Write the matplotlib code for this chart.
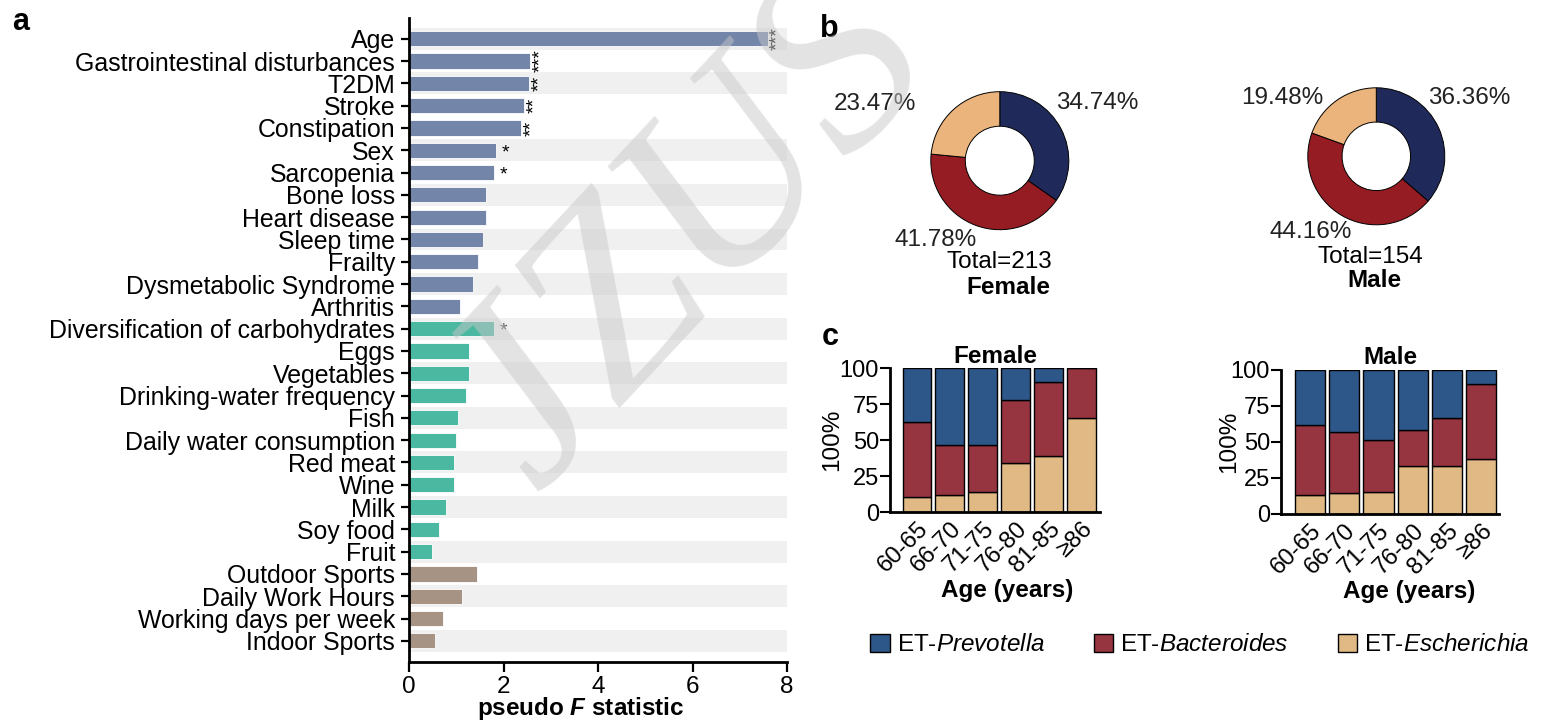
import matplotlib
matplotlib.use("Agg")
import matplotlib.pyplot as plt
import numpy as np

plt.rcParams['font.family'] = ['Liberation Sans', 'DejaVu Sans']
plt.rcParams['mathtext.fontset'] = 'custom'
plt.rcParams['mathtext.rm'] = 'Liberation Sans'
plt.rcParams['mathtext.it'] = 'Liberation Sans:italic'
plt.rcParams['mathtext.bf'] = 'Liberation Sans:bold'
plt.rcParams['mathtext.bfit'] = 'Liberation Sans:bold:italic'

# ---------------- data ----------------
factors = ["Age", "Gastrointestinal disturbances", "T2DM", "Stroke", "Constipation",
           "Sex", "Sarcopenia", "Bone loss", "Heart disease", "Sleep time", "Frailty",
           "Dysmetabolic Syndrome", "Arthritis",
           "Diversification of carbohydrates", "Eggs", "Vegetables",
           "Drinking-water frequency", "Fish", "Daily water consumption", "Red meat",
           "Wine", "Milk", "Soy food", "Fruit",
           "Outdoor Sports", "Daily Work Hours", "Working days per week", "Indoor Sports"]
pseudo_f = [7.59, 2.57, 2.55, 2.44, 2.37, 1.85, 1.80, 1.64, 1.63, 1.57, 1.45, 1.35, 1.07,
            1.80, 1.28, 1.26, 1.20, 1.03, 1.00, 0.95, 0.95, 0.79, 0.63, 0.48,
            1.43, 1.13, 0.72, 0.55]
factor_group = ["host"] * 13 + ["diet"] * 11 + ["lifestyle"] * 4
significance = ["***", "***", "**", "**", "**", "*", "*", "", "", "", "", "", "",
                "*", "", "", "", "", "", "", "", "", "", "",
                "", "", "", ""]
stripe_rows = [0, 2, 5, 7, 9, 11, 13, 15, 17, 19, 21, 23, 25, 27]

enterotypes = ["ET-Prevotella", "ET-Bacteroides", "ET-Escherichia"]
female_pie = [34.74, 41.78, 23.47]
male_pie = [36.36, 44.16, 19.48]
female_total = 213
male_total = 154

age_groups = ["60-65", "66-70", "71-75", "76-80", "81-85", "\u226586"]
female_escherichia = [10.9, 12.0, 14.4, 34.0, 39.1, 65.5]
female_bacteroides = [52.1, 34.5, 32.1, 44.0, 51.4, 34.5]
female_prevotella = [37.0, 53.5, 53.5, 22.0, 9.5, 0.0]
male_escherichia = [13.2, 14.6, 15.5, 33.3, 33.3, 38.4]
male_bacteroides = [48.4, 42.6, 36.1, 25.0, 33.6, 52.1]
male_prevotella = [38.4, 42.8, 48.4, 41.7, 33.1, 9.5]

# ---------------- styles ----------------
group_colors = {"host": "#7385a9", "diet": "#4bb8a1", "lifestyle": "#a69383"}
pie_colors = ["#1f2a5b", "#951c23", "#ebb47c"]
bar_colors = ["#2d5689", "#963440", "#e0b985"]
FS = 17.5

W, H = 1549, 720
fig = plt.figure(figsize=(W / 100, H / 100), dpi=100)


def rect(x0, y0, x1, y1):
    return [x0 / W, 1 - y1 / H, (x1 - x0) / W, (y1 - y0) / H]


# ---------------- panel a ----------------
axA = fig.add_axes(rect(409, 18, 787, 662))
ypos = np.arange(len(factors))
for r in stripe_rows:
    axA.axhspan(r - 0.49, r + 0.49, color="#f0f0f0", lw=0, zorder=0)
axA.barh(ypos, pseudo_f, height=0.68,
         color=[group_colors[g] for g in factor_group],
         edgecolor="white", linewidth=0.6, zorder=2)
for i, (v, s) in enumerate(zip(pseudo_f, significance)):
    if not s:
        continue
    col = "#555555" if factor_group[i] == "diet" else "black"
    if len(s) > 1:
        axA.text(v + 0.22, i, s, rotation=90, ha="center", va="center",
                 fontsize=14, color=col, zorder=3)
    else:
        axA.text(v + 0.2, i + 0.12, s, ha="center", va="center",
                 fontsize=14, color=col, zorder=3)
axA.set_xlim(0, 8)
axA.set_ylim(27.95, -0.93)
axA.set_yticks(ypos)
axA.set_yticklabels(factors, fontsize=17.9)
axA.set_xticks([0, 2, 4, 6, 8])
axA.tick_params(axis="x", labelsize=FS, length=7, width=1.6, pad=3)
axA.tick_params(axis="y", length=6, width=1.6, pad=4)
for sp in ["top", "right"]:
    axA.spines[sp].set_visible(False)
for sp in ["left", "bottom"]:
    axA.spines[sp].set_linewidth(2.0)
axA.set_xlabel(r"pseudo $\mathbfit{F}$ statistic", fontsize=FS, fontweight="bold")
axA.xaxis.set_label_coords(0.455, -0.052)

fig.text(21 / W, 1 - 22 / H, "a", fontsize=22, fontweight="bold", ha="center", va="center")
fig.text(829 / W, 1 - 29 / H, "b", fontsize=22, fontweight="bold", ha="center", va="center")
fig.text(830 / W, 1 - 337 / H, "c", fontsize=22, fontweight="bold", ha="center", va="center")

# ---------------- panel b ----------------
def donut(cx, cy, r, values, total, name, lab_pos, tot_pos, name_pos):
    ax = fig.add_axes(rect(cx - r, cy - r, cx + r, cy + r))
    ax.pie(values, colors=pie_colors, startangle=90, counterclock=False, radius=1,
           wedgeprops=dict(width=0.5, edgecolor="black", linewidth=0.7))
    ax.set_xlim(-1, 1)
    ax.set_ylim(-1, 1)
    ax.set_aspect("equal")
    ax.axis("off")
    for v, (px, py, ha) in zip(values, lab_pos):
        ax.text(px, py, f"{v:.2f}%", fontsize=FS, ha=ha, va="center", color="#222222")
    ax.text(tot_pos[0], tot_pos[1], f"Total={total}", fontsize=FS, ha="center", va="center")
    ax.text(name_pos[0], name_pos[1], name, fontsize=FS, fontweight="bold",
            ha="center", va="center")


donut(999.8, 160.7, 69, female_pie, female_total, "Female",
      [(0.81, 0.84, "left"), (-0.93, -1.15, "center"), (-1.81, 0.82, "center")],
      (0.0, -1.47), (0.13, -1.84))
donut(1376.3, 156.3, 68.5, male_pie, male_total, "Male",
      [(0.755, 0.85, "left"), (-0.96, -1.105, "center"), (-1.37, 0.85, "center")],
      (-0.08, -1.47), (-0.02, -1.82))

# ---------------- panel c ----------------
def stacked(box, esch, bact, prev, title, xlim, ylab_x, xlab_x):
    ax = fig.add_axes(rect(*box))
    x = np.arange(len(age_groups))
    kw = dict(width=0.88, edgecolor="black", linewidth=1.0, zorder=2)
    b_e = ax.bar(x, esch, color=bar_colors[2], **kw)
    b_b = ax.bar(x, bact, bottom=esch, color=bar_colors[1], **kw)
    b_p = ax.bar(x, prev, bottom=np.add(esch, bact), color=bar_colors[0], **kw)
    ax.set_xlim(*xlim)
    ax.set_ylim(0, 100)
    ax.set_yticks([0, 25, 50, 75, 100])
    ax.tick_params(axis="y", labelsize=FS - 0.5, length=7, width=1.5, pad=1)
    ax.set_xticks(x)
    ax.set_xticklabels(age_groups, rotation=45, ha="right", rotation_mode="anchor",
                       fontsize=FS - 0.3)
    ax.tick_params(axis="x", length=0, pad=4)
    for sp in ["top", "right"]:
        ax.spines[sp].set_visible(False)
    for sp in ["left", "bottom"]:
        ax.spines[sp].set_linewidth(2.0)
    ax.set_title(title, fontsize=FS, fontweight="bold", pad=4)
    ax.set_ylabel("100%", fontsize=FS)
    ax.yaxis.set_label_coords(ylab_x, 0.5)
    ax.set_xlabel("Age (years)", fontsize=FS, fontweight="bold")
    ax.xaxis.set_label_coords(xlab_x, -0.46)
    return b_p, b_b, b_e


hp, hb, he = stacked((890, 368.3, 1100, 512.3), female_escherichia, female_bacteroides,
                     female_prevotella, "Female", (-0.82, 5.56), -0.224, 0.557)
stacked((1281, 370, 1499, 514), male_escherichia, male_bacteroides, male_prevotella,
        "Male", (-0.85, 5.52), -0.188, 0.59)

leg_labels = ["ET-$\\mathit{" + e.split("-")[1] + "}$" for e in enterotypes]
fig.legend([hp, hb, he], leg_labels, loc="center", ncol=3, frameon=False,
           bbox_to_anchor=(1200 / W, 1 - 645 / H), fontsize=FS,
           handlelength=0.8, handleheight=0.8, handletextpad=0.3, columnspacing=2.0)

# watermark
fig.text(690 / W, 1 - 235 / H, "JZUS", rotation=47, fontsize=190,
         family="Liberation Serif", style="italic", color="#c8c8c8", alpha=0.5,
         ha="center", va="center", zorder=100)

fig.savefig("out.png", dpi=100)
